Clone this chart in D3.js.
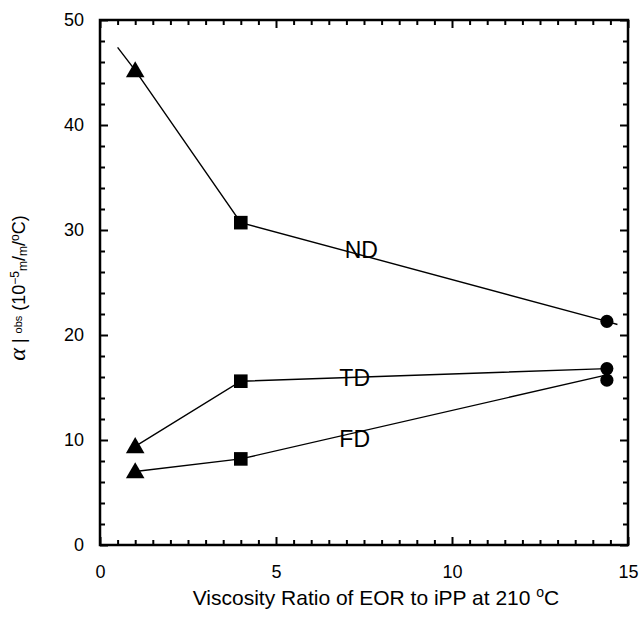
<!DOCTYPE html>
<html>
<head>
<meta charset="utf-8">
<script src="https://cdn.jsdelivr.net/npm/d3@7"></script>
<style>
  body { margin: 0; background: #fff; }
  svg { display: block; font-family: Arial, "Liberation Sans", sans-serif; }
</style>
</head>
<body>
<div id="chart"></div>
<script>
// viscosity ratio (x) for the three blends
const ratios = [1, 4, 14.4];
// alpha obs values per direction
const ndValues = [45.2, 30.7, 21.3];
const tdValues = [9.4, 15.6, 16.8];
const fdValues = [7.0, 8.2, 15.7];
const markers = ["triangle", "square", "circle"];

// drawn lines (ND extends slightly past end points, FD runs to 16.2 at the right)
const ndLine = [[0.5, 47.4], [1, 45.2], [4, 30.7], [14.4, 21.3], [14.7, 21.0]];
const tdLine = [[1, 9.4], [4, 15.6], [14.4, 16.8]];
const fdLine = [[1, 7.0], [4, 8.2], [14.4, 16.2]];

const labels = [
  { text: "ND", x: 6.95, y: 27.3 },
  { text: "TD", x: 6.8, y: 15.1 },
  { text: "FD", x: 6.8, y: 9.3 }
];

const xMajor = [0, 5, 10, 15];
const yMajor = [0, 10, 20, 30, 40, 50];

var width = 639, height = 620;
var margin = { left: 100, right: 11, top: 20, bottom: 75 };

var svg = d3.select("#chart").append("svg")
  .attr("width", width)
  .attr("height", height);

var x = d3.scaleLinear().domain([0, 15]).range([margin.left, width - margin.right]);
var y = d3.scaleLinear().domain([0, 50]).range([height - margin.bottom, margin.top]);

var xMinor = d3.range(0, 15.01, 0.5).filter(d => xMajor.indexOf(d) < 0);
var yMinor = d3.range(0, 50.01, 2).filter(d => yMajor.indexOf(d) < 0);

function tickStyle(g) {
  g.select(".domain").remove();
  g.selectAll(".tick line").attr("stroke", "#000").attr("stroke-width", 2);
  g.selectAll(".tick text").attr("fill", "#000").style("font-size", "18px");
}

// bottom
svg.append("g").attr("transform", "translate(0," + y(0) + ")")
  .call(d3.axisBottom(x).tickValues(xMajor).tickSize(-8).tickPadding(20).tickFormat(d3.format("d")))
  .call(tickStyle);
svg.append("g").attr("transform", "translate(0," + y(0) + ")")
  .call(d3.axisBottom(x).tickValues(xMinor).tickSize(-5).tickFormat(""))
  .call(tickStyle);
// top
svg.append("g").attr("transform", "translate(0," + y(50) + ")")
  .call(d3.axisTop(x).tickValues(xMajor).tickSize(-8).tickFormat(""))
  .call(tickStyle);
svg.append("g").attr("transform", "translate(0," + y(50) + ")")
  .call(d3.axisTop(x).tickValues(xMinor).tickSize(-5).tickFormat(""))
  .call(tickStyle);
// left
svg.append("g").attr("transform", "translate(" + x(0) + ",0)")
  .call(d3.axisLeft(y).tickValues(yMajor).tickSize(-8).tickPadding(16).tickFormat(d3.format("d")))
  .call(tickStyle);
svg.append("g").attr("transform", "translate(" + x(0) + ",0)")
  .call(d3.axisLeft(y).tickValues(yMinor).tickSize(-5).tickFormat(""))
  .call(tickStyle);
// right
svg.append("g").attr("transform", "translate(" + x(15) + ",0)")
  .call(d3.axisRight(y).tickValues(yMajor).tickSize(-8).tickFormat(""))
  .call(tickStyle);
svg.append("g").attr("transform", "translate(" + x(15) + ",0)")
  .call(d3.axisRight(y).tickValues(yMinor).tickSize(-5).tickFormat(""))
  .call(tickStyle);

// frame
svg.append("rect")
  .attr("x", x(0)).attr("y", y(50))
  .attr("width", x(15) - x(0)).attr("height", y(0) - y(50))
  .attr("fill", "none").attr("stroke", "#000").attr("stroke-width", 2.5);

// lines
var line = d3.line().x(d => x(d[0])).y(d => y(d[1]));
[ndLine, tdLine, fdLine].forEach(function(pts) {
  svg.append("path").datum(pts)
    .attr("d", line)
    .attr("fill", "none").attr("stroke", "#000").attr("stroke-width", 1.4);
});

// markers
var symbolOf = {
  triangle: d3.symbol().type(d3.symbolTriangle).size(150),
  square: d3.symbol().type(d3.symbolSquare).size(185),
  circle: d3.symbol().type(d3.symbolCircle).size(135)
};
[ndValues, tdValues, fdValues].forEach(function(vals) {
  svg.append("g").selectAll("path").data(vals).join("path")
    .attr("transform", (d, i) => "translate(" + x(ratios[i]) + "," + (y(d) + (markers[i] === "triangle" ? 1.5 : 0)) + ")")
    .attr("d", (d, i) => symbolOf[markers[i]]())
    .attr("fill", "#000");
});

// series labels
svg.append("g").selectAll("text").data(labels).join("text")
  .attr("x", d => x(d.x)).attr("y", d => y(d.y))
  .style("font-size", "23px")
  .text(d => d.text);

// x axis title
var xt = svg.append("text")
  .attr("x", (x(0) + x(15)) / 2 + 12).attr("y", 605)
  .attr("text-anchor", "middle")
  .style("font-size", "21px");
xt.append("tspan").text("Viscosity Ratio of EOR to iPP at 210 ");
xt.append("tspan").attr("dy", -8).style("font-size", "14px").text("o");
xt.append("tspan").attr("dy", 8).text("C");

// y axis title
var yt = svg.append("text")
  .attr("transform", "translate(25," + 288 + ") rotate(-90)")
  .attr("text-anchor", "middle")
  .style("font-size", "18px");
yt.append("tspan").style("font-family", "'Liberation Serif', serif").style("font-style", "italic").style("font-size", "24px").text("α");
yt.append("tspan").text(" |  ");
yt.append("tspan").attr("dy", -3).style("font-size", "11px").text("obs");
yt.append("tspan").attr("dy", 3).text(" (10");
yt.append("tspan").attr("dy", -6).style("font-size", "12px").text("−5");
yt.append("tspan").attr("dy", 8).style("font-size", "12px").text("m");
yt.append("tspan").attr("dy", -2).text("/");
yt.append("tspan").attr("dy", 2).style("font-size", "12px").text("m");
yt.append("tspan").attr("dy", -2).text("/");
yt.append("tspan").attr("dy", -6).style("font-size", "12px").text("o");
yt.append("tspan").attr("dy", 6).text("C)");
</script>
</body>
</html>
